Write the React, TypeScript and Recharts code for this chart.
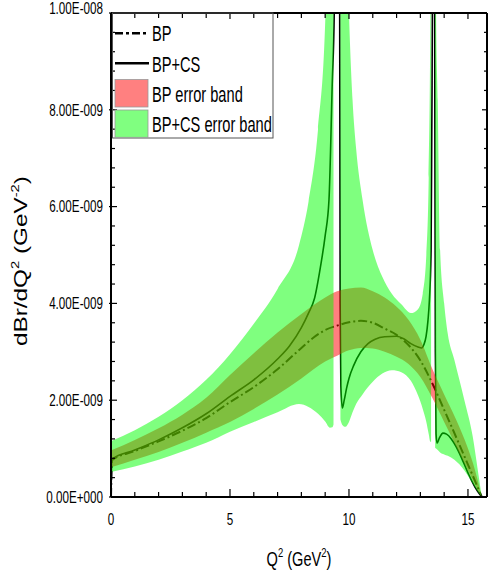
import React from 'react';
import { ComposedChart, Line, Area, XAxis, YAxis, Legend } from 'recharts';

const W = 489;
const H = 581;
const FONT = '"Liberation Sans", Arial, Helvetica, sans-serif';

// Q^2 (GeV^2) -> dBr/dQ^2 in units of 1e-9 GeV^-2
const bpCurve: number[][] = [
  [0, 0], [0.04, 0.76], [1, 0.95], [2, 1.15], [3, 1.37], [4, 1.63], [5, 1.96], [6, 2.27], [7, 2.64],
  [8, 3.08], [8.5, 3.29], [9, 3.45], [9.5, 3.54], [10, 3.61], [10.5, 3.64], [11, 3.6], [11.5, 3.48],
  [12, 3.35], [12.5, 3.14], [13, 2.82], [13.5, 2.35], [14, 1.8], [14.5, 1.24], [15, 0.67], [15.3, 0.33], [15.58, 0],
];

const bpcsCurve: number[][] = [
  [0, 0], [0.04, 0.78], [1, 0.97], [2, 1.18], [3, 1.43], [4, 1.72], [5, 2.08], [6, 2.42], [7, 2.85],
  [7.5, 3.12], [8, 3.5], [8.3, 3.8], [8.55, 4.1], [8.8, 4.75], [9.0, 5.4], [9.16, 6.14], [9.3, 8.6],
  [9.38, 10], [9.45, 16], [9.52, 40], [9.58, 40], [9.61, 10], [9.63, 4], [9.66, 2.3], [9.72, 1.84],
  [9.8, 2.0], [9.9, 2.25], [10.0, 2.45], [10.2, 2.72], [10.5, 3.0], [10.8, 3.17], [11.1, 3.26],
  [11.5, 3.31], [12.0, 3.32], [12.3, 3.27], [12.6, 3.17], [12.9, 3.1], [13.05, 3.08], [13.15, 3.15],
  [13.24, 3.32], [13.32, 3.65], [13.38, 4.07], [13.45, 5.1], [13.48, 7.6], [13.52, 12], [13.55, 40],
  [13.58, 40], [13.6, 10], [13.63, 3.0], [13.66, 1.3], [13.7, 1.11], [13.8, 1.22], [13.95, 1.32],
  [14.1, 1.3], [14.3, 1.2], [14.5, 1.04], [14.7, 0.84], [15.0, 0.5], [15.3, 0.2], [15.58, 0],
];

// [Q^2, low, high]
const bpBand: number[][] = [
  [0.04, 0.62, 0.97], [1, 0.77, 1.18], [2, 0.93, 1.42], [3, 1.12, 1.7], [4, 1.33, 2.05], [5, 1.55, 2.52],
  [6, 1.82, 2.97], [7, 2.12, 3.4], [8, 2.45, 3.78], [9, 2.8, 4.12], [9.5, 2.92, 4.25], [10, 3.03, 4.31],
  [10.5, 3.08, 4.33], [11, 3.07, 4.25], [11.5, 3.0, 4.12], [12, 2.9, 3.93], [12.5, 2.75, 3.66],
  [13, 2.48, 3.25], [13.5, 2.05, 2.65], [14, 1.55, 2.12], [14.5, 1.05, 1.6], [15, 0.55, 1.0],
  [15.3, 0.25, 0.55], [15.58, 0, 0],
];

const bpcsBandLow: number[][] = [
  [0.04, 0.52, 1.16], [1, 0.63, 1.38], [2, 0.77, 1.66], [3, 0.94, 2.0], [4, 1.12, 2.42], [5, 1.35, 2.95],
  [6, 1.55, 3.58], [7, 1.75, 4.3], [7.9, 1.92, 5.2], [8.3, 1.86, 6.1], [8.7, 1.72, 7.6], [9.0, 1.56, 9.8],
  [9.2, 1.43, 14], [9.3, 1.44, 22], [9.35, 1.5, 40],
];

const bpcsBandMid: number[][] = [
  [9.64, 1.6, 40], [9.72, 1.49, 25], [9.85, 1.45, 13], [10.0, 1.55, 10], [10.15, 1.75, 8.2],
  [10.3, 1.92, 7.2], [10.57, 2.12, 6.14], [11.0, 2.38, 5.1], [11.4, 2.55, 4.55], [11.8, 2.62, 4.2],
  [12.2, 2.58, 3.98], [12.6, 2.4, 3.8], [12.9, 2.1, 3.88], [13.1, 1.82, 4.2], [13.25, 1.55, 5.0],
  [13.35, 1.3, 6.6], [13.42, 1.14, 10], [13.45, 1.14, 40],
];

const bpcsBandHigh: number[][] = [
  [13.62, 1.02, 40], [13.66, 1.0, 10], [13.73, 0.97, 8.2], [13.83, 0.92, 5.1], [14.0, 0.88, 4.0],
  [14.15, 0.85, 3.38], [14.43, 0.77, 2.83], [14.85, 0.55, 2.0], [15.2, 0.28, 1.25], [15.4, 0.12, 0.6],
  [15.58, 0, 0],
];

const xTicks = [0, 1, 2, 3, 4, 5, 6, 7, 8, 9, 10, 11, 12, 13, 14, 15];
const xLabelTicks = [0, 5, 10, 15];
const yTicks = Array.from({ length: 26 }, (_, i) => Math.round(i * 4) / 10);
const legendLabels = ['BP', 'BP+CS', 'BP error band', 'BP+CS error band'];

const toPts = (arr: number[][]) => arr.map(([q, v]) => ({ q, v }));
const toBand = (arr: number[][]) => arr.map(([q, lo, hi]) => ({ q, lo, hi }));

const bpData = toPts(bpCurve);
const bpcsData = toPts(bpcsCurve);
const bpBandData = toBand(bpBand);
const bandLowData = toBand(bpcsBandLow);
const bandMidData = toBand(bpcsBandMid);
const bandHighData = toBand(bpcsBandHigh);

const isMajorY = (v: number) => Math.abs(v / 2 - Math.round(v / 2)) < 1e-6;
const fmtY = (v: number) => {
  if (v === 0) return '0.00E+000';
  const val = v * 1e-9;
  const e = Math.floor(Math.log10(val) + 1e-9);
  const m = val / Math.pow(10, e);
  return `${m.toFixed(2)}E-${String(-e).padStart(3, '0')}`;
};

const LeftTick = (p: any) => {
  const ax = p.x;
  const y = p.y;
  const v = p.payload.value;
  const major = isMajorY(v);
  return (
    <g>
      <line x1={major ? ax - 2 : ax} x2={ax + (major ? 6 : 4)} y1={y} y2={y} stroke="#000" strokeWidth={1.2} />
      {major && (
        <text
          transform={`translate(${ax - 8},${y + 5.7 + (v === 10 ? -5 : 0)}) scale(0.73,1)`}
          textAnchor="end"
          fontSize={16}
          fontFamily={FONT}
          fill="#000"
        >
          {fmtY(v)}
        </text>
      )}
    </g>
  );
};

const RightTick = (p: any) => {
  const ax = p.x;
  const y = p.y;
  const major = isMajorY(p.payload.value);
  return <line x1={ax} x2={ax - (major ? 5 : 3)} y1={y} y2={y} stroke="#000" strokeWidth={1.2} />;
};

const BottomTick = (p: any) => {
  const x = p.x;
  const ay = p.y;
  const v = p.payload.value;
  const major = xLabelTicks.includes(v);
  return (
    <g>
      <line x1={x} x2={x} y1={ay} y2={ay - (major ? 8 : 5)} stroke="#000" strokeWidth={1.2} />
      {major && (
        <text transform={`translate(${x},${ay + 28}) scale(0.73,1)`} textAnchor="middle" fontSize={16} fontFamily={FONT} fill="#000">
          {String(v)}
        </text>
      )}
    </g>
  );
};

const TopTick = (p: any) => {
  const x = p.x;
  const ay = p.y;
  const major = xLabelTicks.includes(p.payload.value);
  return <line x1={x} x2={x} y1={ay} y2={ay + (major ? 6 : 5)} stroke="#000" strokeWidth={1.2} />;
};

const XTitle = (p: any) => {
  const vb = p.viewBox || { x: 111, y: 497, width: 376 };
  const cx = vb.x + vb.width / 2;
  const by = vb.y + 69;
  return (
    <text transform={`translate(${cx},${by}) scale(0.73,1)`} textAnchor="middle" fontSize={20} fontFamily={FONT} fill="#000">
      Q<tspan fontSize={13} dy={-9}>2</tspan>
      <tspan dy={9}> (GeV</tspan>
      <tspan fontSize={13} dy={-9}>2</tspan>
      <tspan dy={9}>)</tspan>
    </text>
  );
};

const YTitle = (p: any) => {
  const vb = p.viewBox || { x: 0, y: 13, width: 111, height: 484 };
  const cy = vb.y + vb.height / 2 + 6;
  const bx = vb.x + 26.5;
  return (
    <text transform={`translate(${bx},${cy}) rotate(-90) scale(1.35,1)`} textAnchor="middle" fontSize={18} fontFamily={FONT} fill="#000">
      dBr/dQ<tspan fontSize={11} dy={-8}>2</tspan>
      <tspan dy={8}> (GeV</tspan>
      <tspan fontSize={11} dy={-8}>-2</tspan>
      <tspan dy={8}>)</tspan>
    </text>
  );
};

const LegendBox = () => {
  const textX = 152;
  const baselines = [40.7, 71.7, 101.7, 131.7];
  return (
    <svg width={W} height={H} style={{ display: 'block', overflow: 'visible' }}>
      <rect x={112.5} y={13} width={160.5} height={125} fill="none" stroke="#555" strokeWidth={1} />
      <line x1={115} x2={149} y1={33.3} y2={33.3} stroke="#000" strokeWidth={2.5} strokeDasharray="8 3 3 3" />
      <line x1={115} x2={149} y1={63.3} y2={63.3} stroke="#000" strokeWidth={2.6} />
      <rect x={115} y={79.5} width={33} height={27.5} fill="#FF8080" stroke="#999" strokeWidth={0.8} />
      <rect x={115} y={110} width={33} height={27.3} fill="#80FF80" stroke="#999" strokeWidth={0.8} />
      {legendLabels.map((t, i) => (
        <text key={t} transform={`translate(${textX},${baselines[i]}) scale(0.665,1)`} fontSize={22} fontFamily={FONT} fill="#000">
          {t}
        </text>
      ))}
    </svg>
  );
};

export default function App() {
  return (
    <div style={{ position: 'absolute', left: 0, top: 0, width: W, height: H, background: '#fff' }}>
      <ComposedChart width={W} height={H} margin={{ top: 8, right: 0, bottom: 0, left: 0 }}>
        <XAxis
          xAxisId="b"
          dataKey="q"
          type="number"
          domain={[0, 15.8]}
          allowDataOverflow
          ticks={xTicks}
          interval={0}
          height={84}
          tickSize={0}
          tickMargin={0}
          tickLine={false}
          axisLine={{ stroke: '#000', strokeWidth: 2 }}
          tick={(p: any) => <BottomTick {...p} />}
          label={{ content: (p: any) => <XTitle {...p} /> }}
        />
        <XAxis
          xAxisId="t"
          orientation="top"
          dataKey="q"
          type="number"
          domain={[0, 15.8]}
          allowDataOverflow
          ticks={xTicks}
          interval={0}
          height={5}
          tickSize={0}
          tickMargin={0}
          tickLine={false}
          axisLine={{ stroke: '#000', strokeWidth: 2 }}
          tick={(p: any) => <TopTick {...p} />}
        />
        <YAxis
          yAxisId="l"
          type="number"
          domain={[0, 10]}
          allowDataOverflow
          ticks={yTicks}
          interval={0}
          width={111}
          tickSize={0}
          tickMargin={0}
          tickLine={false}
          axisLine={{ stroke: '#000', strokeWidth: 2 }}
          tick={(p: any) => <LeftTick {...p} />}
          label={{ content: (p: any) => <YTitle {...p} /> }}
        />
        <YAxis
          yAxisId="r"
          orientation="right"
          type="number"
          domain={[0, 10]}
          allowDataOverflow
          ticks={yTicks}
          interval={0}
          width={2}
          tickSize={0}
          tickMargin={0}
          tickLine={false}
          axisLine={{ stroke: '#000', strokeWidth: 2 }}
          tick={(p: any) => <RightTick {...p} />}
        />

        <Line
          xAxisId="b"
          yAxisId="l"
          data={bpData}
          dataKey="v"
          type="monotone"
          stroke="#000"
          strokeWidth={2}
          strokeDasharray="9 3 2 3"
          dot={false}
          activeDot={false}
          isAnimationActive={false}
          zIndex={50}
        />
        <Line
          xAxisId="b"
          yAxisId="l"
          data={bpcsData}
          dataKey="v"
          type="monotone"
          stroke="#000"
          strokeWidth={1.6}
          dot={false}
          activeDot={false}
          isAnimationActive={false}
          zIndex={50}
        />
        <Area
          xAxisId="b"
          yAxisId="l"
          data={bpBandData}
          dataKey={(d: any) => [d.lo, d.hi]}
          type="monotone"
          stroke="none"
          fill="#FF0000"
          fillOpacity={0.5}
          isAnimationActive={false}
          activeDot={false}
        />
        {[bandLowData, bandMidData, bandHighData].map((d, i) => (
          <Area
            key={i}
            xAxisId="b"
            yAxisId="l"
            data={d}
            dataKey={(r: any) => [r.lo, r.hi]}
            type="monotone"
            stroke="none"
            fill="#00FF00"
            fillOpacity={0.5}
            isAnimationActive={false}
            activeDot={false}
          />
        ))}
        <Legend
          layout="horizontal"
          verticalAlign="middle"
          align="center"
          wrapperStyle={{ position: 'absolute', left: 0, top: 0, width: W, height: H, pointerEvents: 'none' }}
          content={() => <LegendBox />}
        />
      </ComposedChart>
    </div>
  );
}
